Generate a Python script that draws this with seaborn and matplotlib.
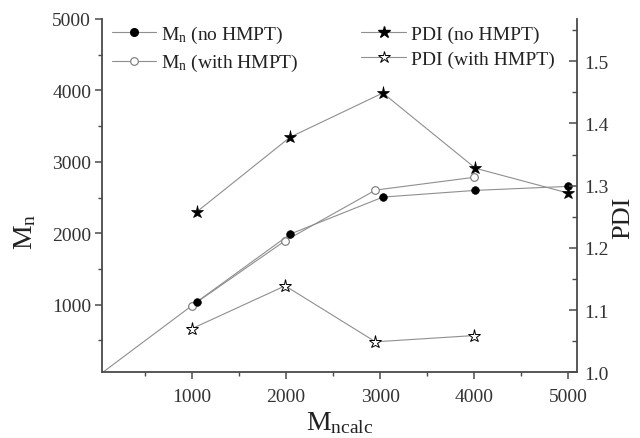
import numpy as np
import pandas as pd
import matplotlib
matplotlib.use('Agg')
import matplotlib.pyplot as plt
import seaborn as sns
from matplotlib.lines import Line2D
from matplotlib.ticker import MultipleLocator, FormatStrFormatter

# ---- data ----
x_no = [1054, 2045, 3029, 4013, 5000]
mn_no = [1041, 1989, 2507, 2601, 2657]
pdi_no = [1.258, 1.378, 1.449, 1.328, 1.288]

x_with = [1000, 1992, 2951, 3992]
mn_with = [986, 1896, 2605, 2783]
pdi_with = [1.070, 1.139, 1.049, 1.059]

origin_x = [0]
origin_y = [0]

labels = [r"M$_{\mathrm{n}}$ (no HMPT)", r"M$_{\mathrm{n}}$ (with HMPT)",
          "PDI (no HMPT)", "PDI (with HMPT)"]
xticks = [1000, 2000, 3000, 4000, 5000]

sns.set_theme(style="ticks")
plt.rcParams['font.family'] = ['Liberation Serif', 'DejaVu Serif']
plt.rcParams['mathtext.fontset'] = 'custom'
plt.rcParams['mathtext.rm'] = 'Liberation Serif'
plt.rcParams['mathtext.it'] = 'Liberation Serif:italic'
plt.rcParams['mathtext.bf'] = 'Liberation Serif:bold'

LINE = '#8f8f8f'
SPINE = '#4a4a4a'
TXT = '#333333'

fig = plt.figure(figsize=(6.4, 4.39), dpi=100)
ax = fig.add_axes([0.1598, 0.1497, 0.7425, 0.8048])
ax2 = ax.twinx()

df_no = pd.DataFrame({'x': x_no, 'mn': mn_no, 'pdi': pdi_no})
df_with = pd.DataFrame({'x': origin_x + x_with, 'mn': origin_y + mn_with})
df_with_pdi = pd.DataFrame({'x': x_with, 'pdi': pdi_with})

common = dict(color=LINE, lw=0.8, sort=False, estimator=None, legend=False)

sns.lineplot(data=df_with, x='x', y='mn', ax=ax, marker='o', markersize=5.5,
             markerfacecolor='white', markeredgecolor='#777777', markeredgewidth=0.8,
             markevery=list(range(1, len(df_with))), **common)
sns.lineplot(data=df_no, x='x', y='mn', ax=ax, marker='o', markersize=5.5,
             markerfacecolor='black', markeredgecolor='black', markeredgewidth=0.5,
             **common)
sns.lineplot(data=df_no, x='x', y='pdi', ax=ax2, marker='*', markersize=9.5,
             markerfacecolor='black', markeredgecolor='black', markeredgewidth=0.5,
             **common)
sns.lineplot(data=df_with_pdi, x='x', y='pdi', ax=ax2, marker='*', markersize=9.5,
             markerfacecolor='white', markeredgecolor='black', markeredgewidth=0.7,
             **common)

ax.set_xlim(50, 5096)
ax.set_ylim(55, 5000)
ax2.set_ylim(1.0, 1.568)

ax.set_xticks(xticks)
ax.xaxis.set_minor_locator(MultipleLocator(500))
ax.yaxis.set_major_locator(MultipleLocator(1000))
ax.yaxis.set_minor_locator(MultipleLocator(500))
ax2.yaxis.set_major_locator(MultipleLocator(0.1))
ax2.yaxis.set_minor_locator(MultipleLocator(0.05))
ax2.yaxis.set_major_formatter(FormatStrFormatter('%.1f'))

for a in (ax, ax2):
    a.spines['top'].set_visible(False)
    for s in a.spines.values():
        s.set_color(SPINE)
        s.set_linewidth(1.3)
ax.spines['right'].set_visible(False)
ax2.spines['left'].set_visible(False)
ax2.spines['bottom'].set_visible(False)

ax.tick_params(axis='x', which='major', pad=6)
ax.tick_params(axis='y', which='major', pad=3)
ax.tick_params(axis='both', which='major', direction='out', length=5, width=1.1,
               color=SPINE, labelsize=14, labelcolor=TXT)
ax.tick_params(axis='both', which='minor', direction='out', length=3, width=1.0,
               color=SPINE)
ax2.tick_params(axis='y', which='major', direction='in', length=6, width=1.1,
                color=SPINE, labelsize=14, labelcolor=TXT, pad=5)
ax2.tick_params(axis='y', which='minor', direction='in', length=3.5, width=1.0,
                color=SPINE)

ax.set_xlabel(r"M$_{\mathrm{ncalc}}$", fontsize=20, color='#222222')
ax.xaxis.set_label_coords(0.5, -0.142)
ax.xaxis.label.set_va('center')
ax.set_ylabel(r"M$_{\mathrm{n}}$", fontsize=20, color='#222222')
ax.yaxis.set_label_coords(-0.163, 0.40)
ax.yaxis.label.set_va('center')
ax2.set_ylabel("PDI", fontsize=19, color='#222222', rotation=90)
ax2.yaxis.set_label_coords(1.097, 0.44)
ax2.yaxis.label.set_va('center')
ax2.yaxis.label.set_ha('center')

handles = [
    Line2D([], [], color=LINE, lw=0.8, marker='o', ms=5.5, mfc='black', mec='black'),
    Line2D([], [], color=LINE, lw=0.8, marker='o', ms=5.5, mfc='white', mec='#777777', mew=0.8),
    Line2D([], [], color=LINE, lw=0.8, marker='*', ms=9, mfc='black', mec='black'),
    Line2D([], [], color=LINE, lw=0.8, marker='*', ms=9, mfc='white', mec='black', mew=0.7),
]
fig.legend(handles, labels, ncol=2, loc='upper left', bbox_to_anchor=(0.1745, 0.943),
           frameon=False, fontsize=14, handlelength=2.3, handletextpad=0.26,
           columnspacing=3.2, labelspacing=0.37, borderpad=0, borderaxespad=0,
           labelcolor='#222222')

fig.savefig('out.png', dpi=100)
